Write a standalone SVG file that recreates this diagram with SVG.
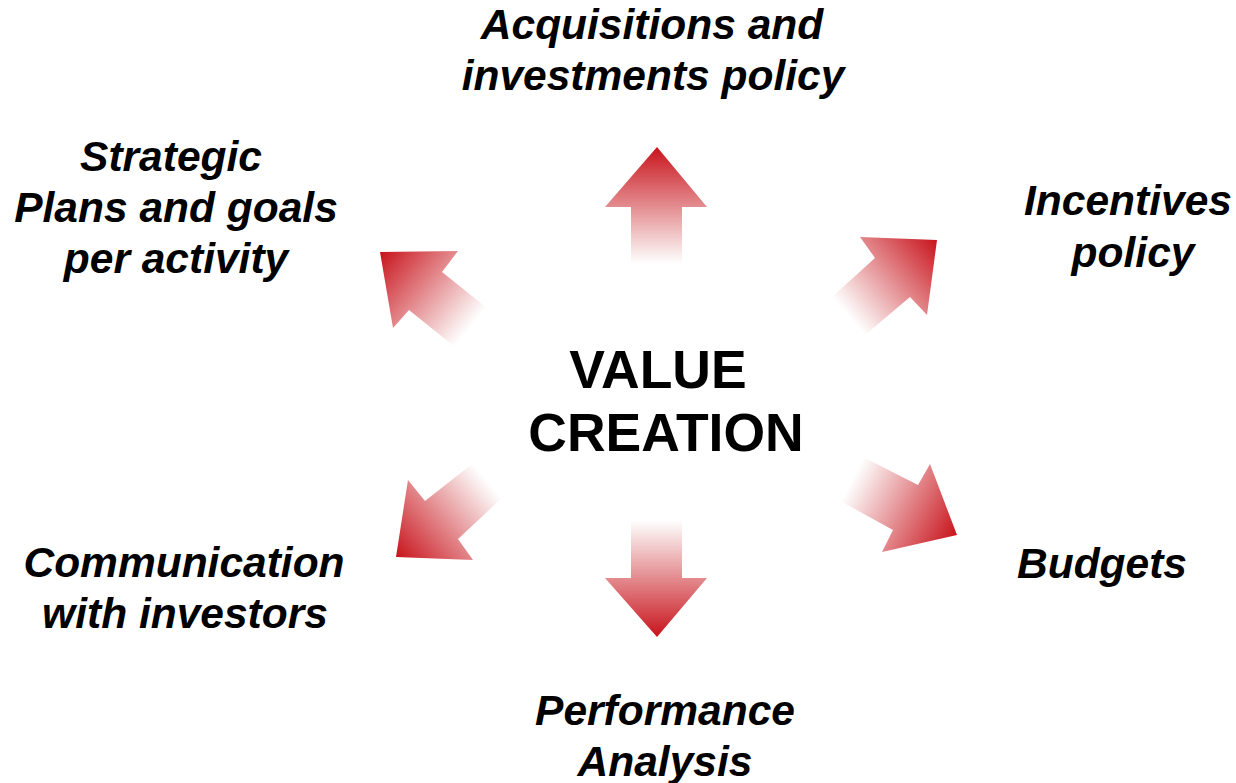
<svg xmlns="http://www.w3.org/2000/svg" xmlns:xlink="http://www.w3.org/1999/xlink" width="1236" height="783" viewBox="0 0 1236 783">
  <style>
    .label { font-family: "Liberation Sans", Arial, sans-serif; font-weight: bold; font-style: italic; font-size: 42.5px; fill: #000; text-anchor: middle; }
    .core { font-family: "Liberation Sans", Arial, sans-serif; font-weight: bold; font-size: 53.5px; fill: #000; text-anchor: middle; }
  </style>
  <defs>
    <!-- shared fade: pale at the tail, deep red at the tip -->
    <linearGradient id="fade">
      <stop offset="0" stop-color="#ffffff"/>
      <stop offset="0.08" stop-color="#faeeee"/>
      <stop offset="1" stop-color="#c8141c"/>
    </linearGradient>
    <linearGradient id="g-up" xlink:href="#fade" gradientUnits="userSpaceOnUse" x1="657" y1="264" x2="657" y2="147"/>
    <linearGradient id="g-down" xlink:href="#fade" gradientUnits="userSpaceOnUse" x1="657" y1="520" x2="657" y2="637"/>
    <linearGradient id="g-ul" xlink:href="#fade" gradientUnits="userSpaceOnUse" x1="471" y1="327" x2="380" y2="252"/>
    <linearGradient id="g-ur" xlink:href="#fade" gradientUnits="userSpaceOnUse" x1="848" y1="316" x2="937" y2="240"/>
    <linearGradient id="g-ll" xlink:href="#fade" gradientUnits="userSpaceOnUse" x1="487" y1="480" x2="396" y2="557"/>
    <linearGradient id="g-lr" xlink:href="#fade" gradientUnits="userSpaceOnUse" x1="852" y1="479" x2="957" y2="535"/>
  </defs>

  <!-- centre -->
  <g id="value-creation">
    <text class="core" x="658" y="388">VALUE</text>
    <text class="core" x="666" y="451">CREATION</text>
  </g>

  <!-- arrows radiating from the centre -->
  <g id="connectors">
    <polygon id="arrow-up" fill="url(#g-up)" points="657,147 707,207 682,207 682,264 631,264 631,207 605,207"/>
    <polygon id="arrow-down" fill="url(#g-down)" points="657,637 707,578 682,578 682,520 631,520 631,578 605,578"/>
    <polygon id="arrow-upper-left" fill="url(#g-ul)" points="380,252 458,251 442,272 487,308 455,347 409,310 393,328"/>
    <polygon id="arrow-upper-right" fill="url(#g-ur)" points="937,240 860,237 875,258 832,297 865,335 910,297 927,315"/>
    <polygon id="arrow-lower-left" fill="url(#g-ll)" points="396,557 408,480 425,501 472,464 503,497 458,539 473,560"/>
    <polygon id="arrow-lower-right" fill="url(#g-lr)" points="957,535 930,464 918,485 863,457 842,502 893,530 882,552"/>
  </g>

  <g id="acquisitions">
    <text class="label" x="652" y="39">Acquisitions and</text>
    <text class="label" x="653" y="90">investments policy</text>
  </g>
  <g id="strategic-plans">
    <text class="label" x="171" y="171">Strategic</text>
    <text class="label" x="176" y="222">Plans and goals</text>
    <text class="label" x="176" y="273">per activity</text>
  </g>
  <g id="incentives">
    <text class="label" x="1128" y="215">Incentives</text>
    <text class="label" x="1133" y="267">policy</text>
  </g>
  <g id="budgets">
    <text class="label" x="1102" y="578">Budgets</text>
  </g>
  <g id="communication">
    <text class="label" x="184" y="577">Communication</text>
    <text class="label" x="185" y="628">with investors</text>
  </g>
  <g id="performance">
    <text class="label" x="665" y="725">Performance</text>
    <text class="label" x="665" y="776">Analysis</text>
  </g>
</svg>
